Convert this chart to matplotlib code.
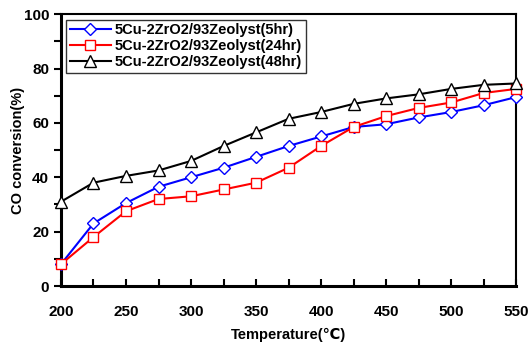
import matplotlib
matplotlib.use("Agg")
import matplotlib.pyplot as plt
from matplotlib.ticker import MultipleLocator

plt.rcParams['font.family'] = ['Liberation Sans', 'DejaVu Sans']
plt.rcParams['font.weight'] = 'bold'

# --- Data ---
temperature = [200, 225, 250, 275, 300, 325, 350, 375, 400, 425, 450, 475, 500, 525, 550]
conv_5hr = [8, 23, 30.5, 36.5, 40, 43.5, 47.5, 51.5, 55, 58.5, 59.5, 62, 64, 66.5, 69.5]
conv_24hr = [8, 18, 27.5, 32, 33, 35.5, 38, 43.5, 51.5, 58.5, 62.5, 65.5, 67.5, 71, 72.5]
conv_48hr = [31, 38, 40.5, 42.5, 46, 51.5, 56.5, 61.5, 64, 67, 69, 70.5, 72.5, 74, 74.5]
labels = ["5Cu-2ZrO2/93Zeolyst(5hr)", "5Cu-2ZrO2/93Zeolyst(24hr)", "5Cu-2ZrO2/93Zeolyst(48hr)"]

fig = plt.figure(figsize=(5.3, 3.45), dpi=100)
ax = fig.add_axes([0.115, 0.171, 0.859, 0.788])

ax.plot(temperature, conv_5hr, color="blue", lw=1.5, marker="D", ms=6,
        mfc="white", mec="blue", mew=1.0, label=labels[0], clip_on=False, zorder=3)
ax.plot(temperature, conv_24hr, color="red", lw=1.5, marker="s", ms=7.5,
        mfc="white", mec="red", mew=1.0, label=labels[1], clip_on=False, zorder=3)
ax.plot(temperature, conv_48hr, color="black", lw=1.5, marker="^", ms=8.5,
        mfc="white", mec="black", mew=1.0, label=labels[2], clip_on=False, zorder=3)

ax.set_xlim(200, 550)
ax.set_ylim(0, 100)
ax.xaxis.set_major_locator(MultipleLocator(50))
ax.xaxis.set_minor_locator(MultipleLocator(25))
ax.yaxis.set_major_locator(MultipleLocator(20))
ax.yaxis.set_minor_locator(MultipleLocator(10))
ax.tick_params(axis="x", which="both", direction="in", length=5, width=1.5, labelsize=11, pad=14)
ax.tick_params(axis="y", which="both", direction="out", length=5, width=1.5, labelsize=11)
for s in ax.spines.values():
    s.set_linewidth(1.5)
ax.spines["bottom"].set_linewidth(2.2)
ax.spines["left"].set_linewidth(2.2)
for lab in ax.get_xticklabels() + ax.get_yticklabels():
    lab.set_fontweight("bold")

ax.set_xlabel("Temperature(℃)", fontsize=10.5, fontweight="bold", labelpad=6)
ax.set_ylabel("CO conversion(%)", fontsize=10.5, fontweight="bold", labelpad=-1)

leg = ax.legend(loc="upper left", bbox_to_anchor=(0.005, 0.99), fontsize=10.5,
                frameon=True, fancybox=False, edgecolor="black", handlelength=2.8,
                borderpad=0.25, labelspacing=0.12, handletextpad=0.3, borderaxespad=0.2)
leg.get_frame().set_linewidth(1.0)
for t in leg.get_texts():
    t.set_fontweight("bold")

fig.savefig("out.png", dpi=100)
